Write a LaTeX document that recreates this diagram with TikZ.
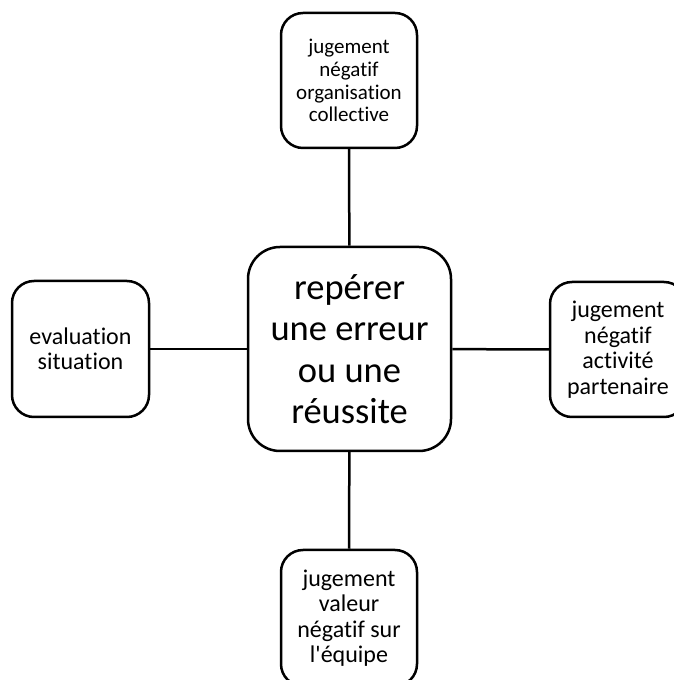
\documentclass[tikz,border=0pt]{standalone}
\usepackage{fontspec}
\setmainfont{Carlito}[Ligatures=TeXOff,RawFeature={-liga;-dlig;-clig}]
\begin{document}
\begin{tikzpicture}[x=1pt,y=1pt,
  box/.style={draw=black,line width=2.5pt,rounded corners=22pt,fill=white,
    minimum width=136pt,minimum height=135pt,inner sep=0pt,align=center,
    font=\fontsize{24}{25.5}\selectfont},
  bigbox/.style={draw=black,line width=2.5pt,rounded corners=32pt,fill=white,
    minimum width=203pt,minimum height=204pt,inner sep=0pt,align=center,
    font=\fontsize{36.5}{41.5}\selectfont},
  link/.style={draw=black,line width=2.5pt}]
\useasboundingbox (0,0) rectangle (674,680);
\clip (0,0) rectangle (674,680);
\node[bigbox] (c) at (349.5,331) {repérer\\une erreur\\ou une\\réussite};
\node[box,font=\fontsize{21}{22.8}\selectfont] (t) at (349,599.5) {jugement\\négatif\\organisation\\collective};
\node[box,minimum width=137pt,minimum height=136pt] (l) at (80.5,331) {evaluation\\situation};
\node[box,minimum height=135pt] (r) at (618,330.5) {jugement\\négatif\\activité\\partenaire};
\node[box,minimum height=136pt] (b) at (349,62) {jugement\\valeur\\négatif sur\\l'équipe};
\draw[link] (t) -- (c);
\draw[link] (l) -- (c);
\draw[link] (c) -- (r);
\draw[link] (c) -- (b);
\end{tikzpicture}
\end{document}
